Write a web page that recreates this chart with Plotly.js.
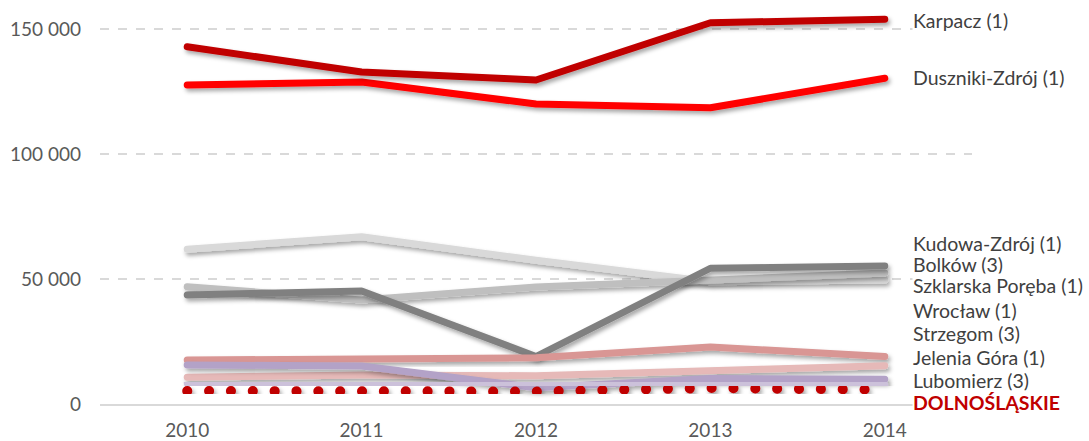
<!DOCTYPE html>
<html>
<head>
<meta charset="utf-8">
<script src="https://cdn.plot.ly/plotly-3.0.1.min.js"></script>
<style>
  html, body { margin: 0; padding: 0; background: #ffffff; }
  #chart { width: 1089px; height: 441px; }
</style>
</head>
<body>
<div id="chart"></div>
<script>
const years = ["2010", "2011", "2012", "2013", "2014"];

const seriesNames = [
  "Duszniki-Zdrój (1)",
  "Karpacz (1)",
  "Kudowa-Zdrój (1)",
  "Szklarska Poręba (1)",
  "Bolków (3)",
  "Jelenia Góra (1)",
  "Wrocław (1)",
  "Strzegom (3)",
  "Lubomierz (3)",
  "DOLNOŚLĄSKIE"
];

const duszniki = [127600, 128800, 120000, 118500, 130300];
const karpacz = [142900, 132800, 129600, 152500, 153900];
const kudowa = [61900, 66900, 57500, 48900, 49600];
const szklarska = [46900, 41600, 46800, 49800, 52400];
const bolkow = [43600, 45200, 19000, 54300, 55200];
const jelenia = [17600, 18300, 18500, 22800, 19000];
const wroclaw = [10700, 11600, 11300, 13600, 15300];
const strzegom = [15600, 15200, 6500, 10200, 9900];
const lubomierz = [8300, 7600, 8400, 8200, 7800];
const dolnoslaskie = [5200, 5200, 5000, 6400, 5700];

// where each end label sits (value units), as placed in the original
const labelOrder = [
  "Karpacz (1)",
  "Duszniki-Zdrój (1)",
  "Kudowa-Zdrój (1)",
  "Bolków (3)",
  "Szklarska Poręba (1)",
  "Wrocław (1)",
  "Strzegom (3)",
  "Jelenia Góra (1)",
  "Lubomierz (3)",
  "DOLNOŚLĄSKIE"
];
const labelY = [153600, 130800, 64400, 55800, 47600, 37600, 28400, 18800, 9600, 800];

const seriesValues = [duszniki, karpacz, kudowa, szklarska, bolkow, jelenia, wroclaw, strzegom, lubomierz, dolnoslaskie];
const seriesColors = ["#ff0000", "#c00000", "#d9d9d9", "#bfbfbf", "#808080", "#d99694", "#e6b9b8", "#b3a2c7", "#ccc1da", "#c00000"];

const traces = seriesNames.map((name, i) => ({
  type: "scatter",
  mode: "lines",
  name: name,
  x: years,
  y: seriesValues[i],
  line: { color: seriesColors[i], width: i === 9 ? 10 : 7 },
  hoverinfo: "skip"
}));

const annotations = labelOrder.map((name, i) => ({
  xref: "x",
  yref: "y",
  x: 4,
  y: labelY[i],
  xshift: 27,
  xanchor: "left",
  yanchor: "middle",
  text: name === "DOLNOŚLĄSKIE" ? "<b>" + name + "</b>" : name,
  showarrow: false,
  bgcolor: "#ffffff",
  borderpad: 0,
  font: {
    family: "Lato, sans-serif",
    size: 19.5,
    color: name === "DOLNOŚLĄSKIE" ? "#c00000" : "#404040"
  }
}));

const layout = {
  width: 1089,
  height: 441,
  margin: { l: 100, r: 117, t: 4, b: 37 },
  paper_bgcolor: "#ffffff",
  plot_bgcolor: "#ffffff",
  showlegend: false,
  separators: ". ",
  font: { family: "Lato, sans-serif", size: 19, color: "#595959" },
  xaxis: {
    type: "category",
    range: [-0.5, 4.5],
    showgrid: false,
    showline: true,
    linecolor: "#d9d9d9",
    linewidth: 2,
    ticks: "",
    ticklabelstandoff: 8,
    tickfont: { size: 19, color: "#595959" }
  },
  yaxis: {
    range: [0, 160000],
    tickvals: [0, 50000, 100000, 150000],
    tickformat: ",d",
    showgrid: true,
    gridcolor: "#d9d9d9",
    gridwidth: 1.5,
    griddash: "dash",
    zeroline: false,
    showline: false,
    ticks: "",
    ticklabelstandoff: 18,
    tickfont: { size: 19, color: "#595959" }
  },
  annotations: annotations
};

Plotly.newPlot("chart", traces, layout, { staticPlot: true }).then((gd) => {
  const svg = gd.querySelector(".main-svg");
  const ns = "http://www.w3.org/2000/svg";
  let defs = svg.querySelector("defs");
  if (!defs) {
    defs = document.createElementNS(ns, "defs");
    svg.insertBefore(defs, svg.firstChild);
  }
  const filter = document.createElementNS(ns, "filter");
  filter.setAttribute("id", "lineshadow");
  filter.setAttribute("x", "-10%");
  filter.setAttribute("y", "-30%");
  filter.setAttribute("width", "130%");
  filter.setAttribute("height", "180%");
  const drop = document.createElementNS(ns, "feDropShadow");
  drop.setAttribute("dx", "2");
  drop.setAttribute("dy", "3");
  drop.setAttribute("stdDeviation", "2");
  drop.setAttribute("flood-color", "#000000");
  drop.setAttribute("flood-opacity", "0.35");
  filter.appendChild(drop);
  defs.appendChild(filter);

  const lines = gd.querySelectorAll(".scatterlayer .trace path.js-line");
  lines.forEach((path, i) => {
    path.style.setProperty("stroke-linecap", "round");
    path.style.setProperty("stroke-linejoin", "round");
    path.setAttribute("filter", "url(#lineshadow)");
    if (i === lines.length - 1) {
      path.style.setProperty("stroke-dasharray", "0.1px,21.75px");
    }
  });
});
</script>
</body>
</html>
